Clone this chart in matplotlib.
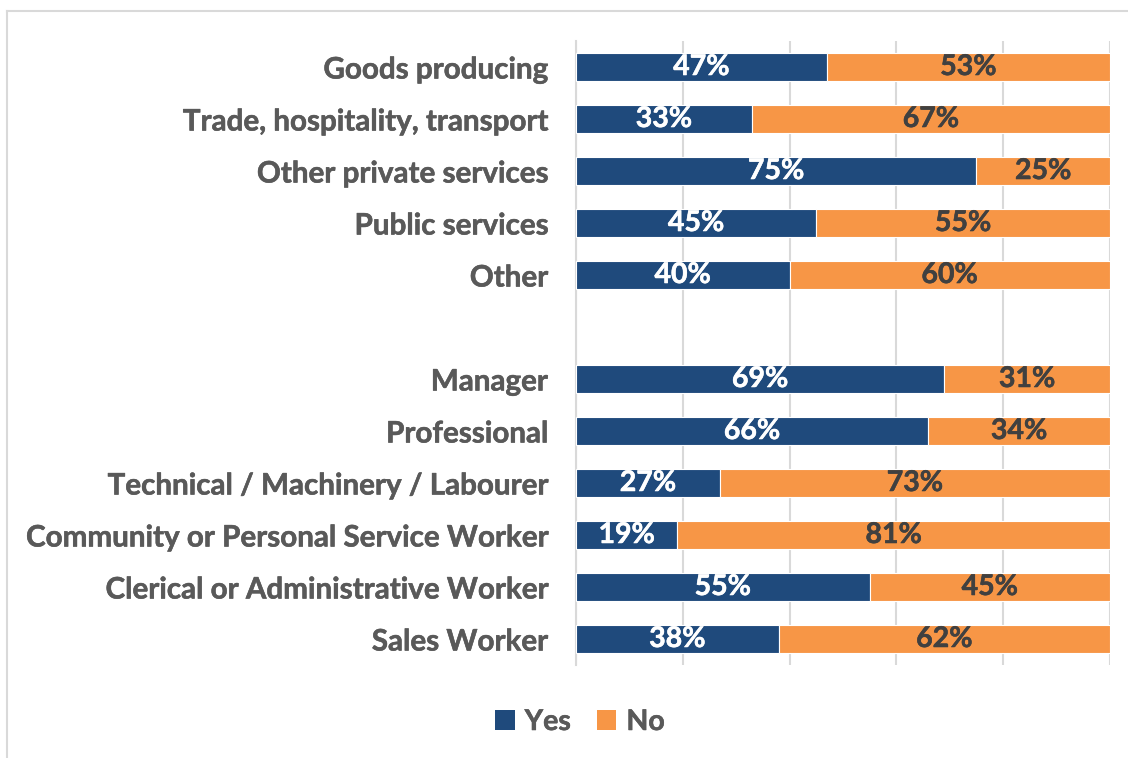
import matplotlib
matplotlib.use("Agg")
import matplotlib.pyplot as plt
import matplotlib.patheffects as pe
from matplotlib.lines import Line2D
from matplotlib.patches import Patch

categories = [
    "Goods producing",
    "Trade, hospitality, transport",
    "Other private services",
    "Public services",
    "Other",
    "",
    "Manager",
    "Professional",
    "Technical / Machinery / Labourer",
    "Community or Personal Service Worker",
    "Clerical or Administrative Worker",
    "Sales Worker",
]
yes_values = [47, 33, 75, 45, 40, None, 69, 66, 27, 19, 55, 38]
no_values = [53, 67, 25, 55, 60, None, 31, 34, 73, 81, 45, 62]
series_names = ["Yes", "No"]

BLUE = "#1F4A7C"
ORANGE = "#F79646"
LABEL_GREY = "#595959"
VALUE_DARK = "#404040"
GRID = "#D9D9D9"
WEIGHT = "bold"


def thicken(color, width=0.4):
    return [pe.withStroke(linewidth=width, foreground=color)]


plt.rcParams["font.family"] = ["Lato", "DejaVu Sans"]
plt.rcParams["font.weight"] = WEIGHT

fig = plt.figure(figsize=(11.28, 7.58), dpi=100)
ax = fig.add_axes([0.5106, 0.1227, 0.4734, 0.8232])

ypos = list(range(len(categories)))
for y, yv, nv in zip(ypos, yes_values, no_values):
    if yv is None:
        continue
    ax.barh(y, yv, height=0.54, color=BLUE, edgecolor="white", linewidth=0.8, zorder=3)
    ax.barh(y, nv, left=yv, height=0.54, color=ORANGE, edgecolor="white",
            linewidth=0.8, zorder=3)
    ax.text(yv / 2, y, f"{yv}%", ha="center", va="center", color="white",
            fontsize=20.5, fontweight=WEIGHT, zorder=4, path_effects=thicken("white"))
    ax.text(yv + nv / 2, y, f"{nv}%", ha="center", va="center", color=VALUE_DARK,
            fontsize=20.5, fontweight=WEIGHT, zorder=4, path_effects=thicken(VALUE_DARK))

ax.set_xlim(0, 100)
ax.set_ylim(len(categories) - 0.5, -0.5)
ax.set_xticks([0, 20, 40, 60, 80, 100])
ax.set_xticklabels([])
ax.tick_params(axis="x", length=0)
ax.grid(axis="x", color=GRID, linewidth=1.5, zorder=0)
ax.set_yticks(ypos)
ax.set_yticklabels(categories, fontsize=21.3, fontweight=WEIGHT, color=LABEL_GREY)
for lbl in ax.get_yticklabels():
    lbl.set_path_effects(thicken(LABEL_GREY))
ax.tick_params(axis="y", length=0, pad=20)
for side in ["top", "right", "bottom"]:
    ax.spines[side].set_visible(False)
ax.spines["left"].set_color(GRID)
ax.spines["left"].set_linewidth(1.5)

handles = [Patch(facecolor=BLUE, edgecolor="none"), Patch(facecolor=ORANGE, edgecolor="none")]
leg = fig.legend(handles, series_names, loc="center", bbox_to_anchor=(0.514, 0.0475),
                 ncol=2, frameon=False, prop={"size": 20.5, "weight": WEIGHT},
                 labelcolor=LABEL_GREY, handlelength=0.7, handleheight=0.7,
                 handletextpad=0.35, columnspacing=0.9)
for t in leg.get_texts():
    t.set_path_effects(thicken(LABEL_GREY))

# chart area border (top and left edges)
fig.add_artist(Line2D([0.0066, 1.0], [0.9855, 0.9855], transform=fig.transFigure,
                      color=GRID, linewidth=1.5))
fig.add_artist(Line2D([0.0066, 0.0066], [0.0, 0.9855], transform=fig.transFigure,
                      color=GRID, linewidth=1.5))

fig.savefig("out.png", dpi=100, facecolor="white")
